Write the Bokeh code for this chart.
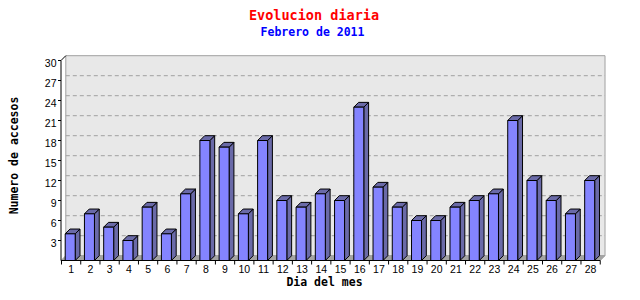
from bokeh.plotting import figure
from bokeh.models import Range1d
from bokeh.embed import file_html
from bokeh.resources import INLINE
import math

# ---- data ----
days = list(range(1, 29))
accesos = [4, 7, 5, 3, 8, 4, 10, 18, 17, 7, 18, 9, 8, 10, 9, 23, 11, 8, 6, 6, 8, 9, 10, 21, 12, 9, 7, 12]
day_labels = [str(d) for d in days]
y_ticks = [3, 6, 9, 12, 15, 18, 21, 24, 27, 30]
y_tick_labels = [str(t) for t in y_ticks]
title_text = "Evolucion diaria"
subtitle_text = "Febrero de 2011"
xlabel_text = "Dia del mes"
ylabel_text = "Numero de accesos"

# ---- geometry: full-canvas frame, pixel helpers ----
W, H = 640, 300
PX = 19.24           # px per category
PY = 200.0 / 30.0    # px per unit
X0PX = 61.0          # px of x = 0.5
Y0PX = 260.0         # px of y = 0
x_start = 0.5 - X0PX / PX
y_start = -(H - Y0PX) / PY


def fx(px):
    return x_start + px / PX


def fy(py):
    return (Y0PX - py) / PY


DX = 4.8 / PX
DY = 4.8 / PY
AX = fx(60.5)   # front y-axis line
XR = 28.5       # front right end
YMAX = 30

p = figure(width=W, height=H, output_backend="svg", toolbar_location=None,
           x_range=Range1d(x_start, x_start + W / PX), y_range=Range1d(y_start, y_start + H / PY),
           x_axis_type=None, y_axis_type=None,
           min_border=0, min_border_left=0, min_border_right=0, min_border_top=0, min_border_bottom=0,
           background_fill_color="white", border_fill_color="white", outline_line_color=None)
p.xgrid.visible = False
p.ygrid.visible = False

# back wall
p.quad(left=[AX + DX], right=[XR + DX], bottom=[DY], top=[YMAX + DY],
       fill_color="#e8e8e8", line_color="#a0a0a0", line_width=1)
# dashed gridlines on back wall
n = len(y_ticks) - 1
gy = [t + DY for t in y_ticks[:-1]]
p.segment(x0=[AX + DX] * n, y0=gy, x1=[XR + DX] * n, y1=gy,
          line_color="#a0a0a0", line_width=1, line_dash="4 3")
# floor
p.patch(x=[AX, AX + DX, XR + DX, XR], y=[0, DY, DY, 0], fill_color="#a4a4a4",
        line_color="#a4a4a4", line_width=1)

# bars
lefts = [d - 0.5 + 3.7 / PX for d in days]
w = 10.0 / PX
rights = [l + w for l in lefts]
side_xs = [[r, r + DX, r + DX, r] for r in rights]
side_ys = [[0, DY, v + DY, v] for v in accesos]
top_xs = [[l, l + DX, r + DX, r] for l, r in zip(lefts, rights)]
top_ys = [[v, v + DY, v + DY, v] for v in accesos]
p.patches(xs=side_xs, ys=side_ys, fill_color="#6a6aa8", line_color="black", line_width=1)
p.patches(xs=top_xs, ys=top_ys, fill_color="#6a6aa8", line_color="black", line_width=1)
p.quad(left=lefts, right=rights, bottom=[0] * len(days), top=accesos,
       fill_color="#8484ff", line_color="black", line_width=1)

# axis lines + top diagonal
p.segment(x0=[AX, AX, AX], y0=[0, 0, YMAX], x1=[AX, XR, AX + DX], y1=[YMAX, 0, YMAX + DY],
          line_color="black", line_width=1)

# y ticks (outward) and labels
p.segment(x0=[fx(57.5)] * len(y_ticks), y0=y_ticks, x1=[AX] * len(y_ticks), y1=y_ticks,
          line_color="black", line_width=1)
p.text(x=[fx(56)] * len(y_ticks), y=y_ticks, text=y_tick_labels, text_align="right",
       text_baseline="middle", y_offset=2.5, text_font_size="10.5px", text_color="black",
       text_font={"value": "Liberation Sans"})

# x ticks at category boundaries and labels
bounds = [d - 0.5 for d in days] + [XR]
p.segment(x0=bounds, y0=[0] * len(bounds), x1=bounds, y1=[fy(264)] * len(bounds),
          line_color="black", line_width=1)
p.text(x=days, y=[fy(268.5)] * len(days), text=day_labels, text_align="center",
       text_baseline="middle", text_font_size="10.5px", text_color="black",
       text_font={"value": "Liberation Sans"})

# titles and axis titles
mono = {"value": "DejaVu Sans Mono"}
p.text(x=[fx(313.5)], y=[fy(14)], text=[title_text], text_align="center", text_baseline="middle",
       text_font=mono, text_font_size="13.5px", text_font_style="bold", text_color="red")
p.text(x=[fx(312)], y=[fy(31)], text=[subtitle_text], text_align="center", text_baseline="middle",
       text_font=mono, text_font_size="11.5px", text_font_style="bold", text_color="blue")
p.text(x=[fx(324)], y=[fy(281)], text=[xlabel_text], text_align="center", text_baseline="middle",
       text_font=mono, text_font_size="11.5px", text_font_style="bold", text_color="black")
p.text(x=[fx(13)], y=[fy(155)], text=[ylabel_text], text_align="center", text_baseline="middle",
       angle=math.pi / 2, text_font=mono, text_font_size="11.5px", text_font_style="bold",
       text_color="black")

open("out.html", "w").write(file_html(p, INLINE))
